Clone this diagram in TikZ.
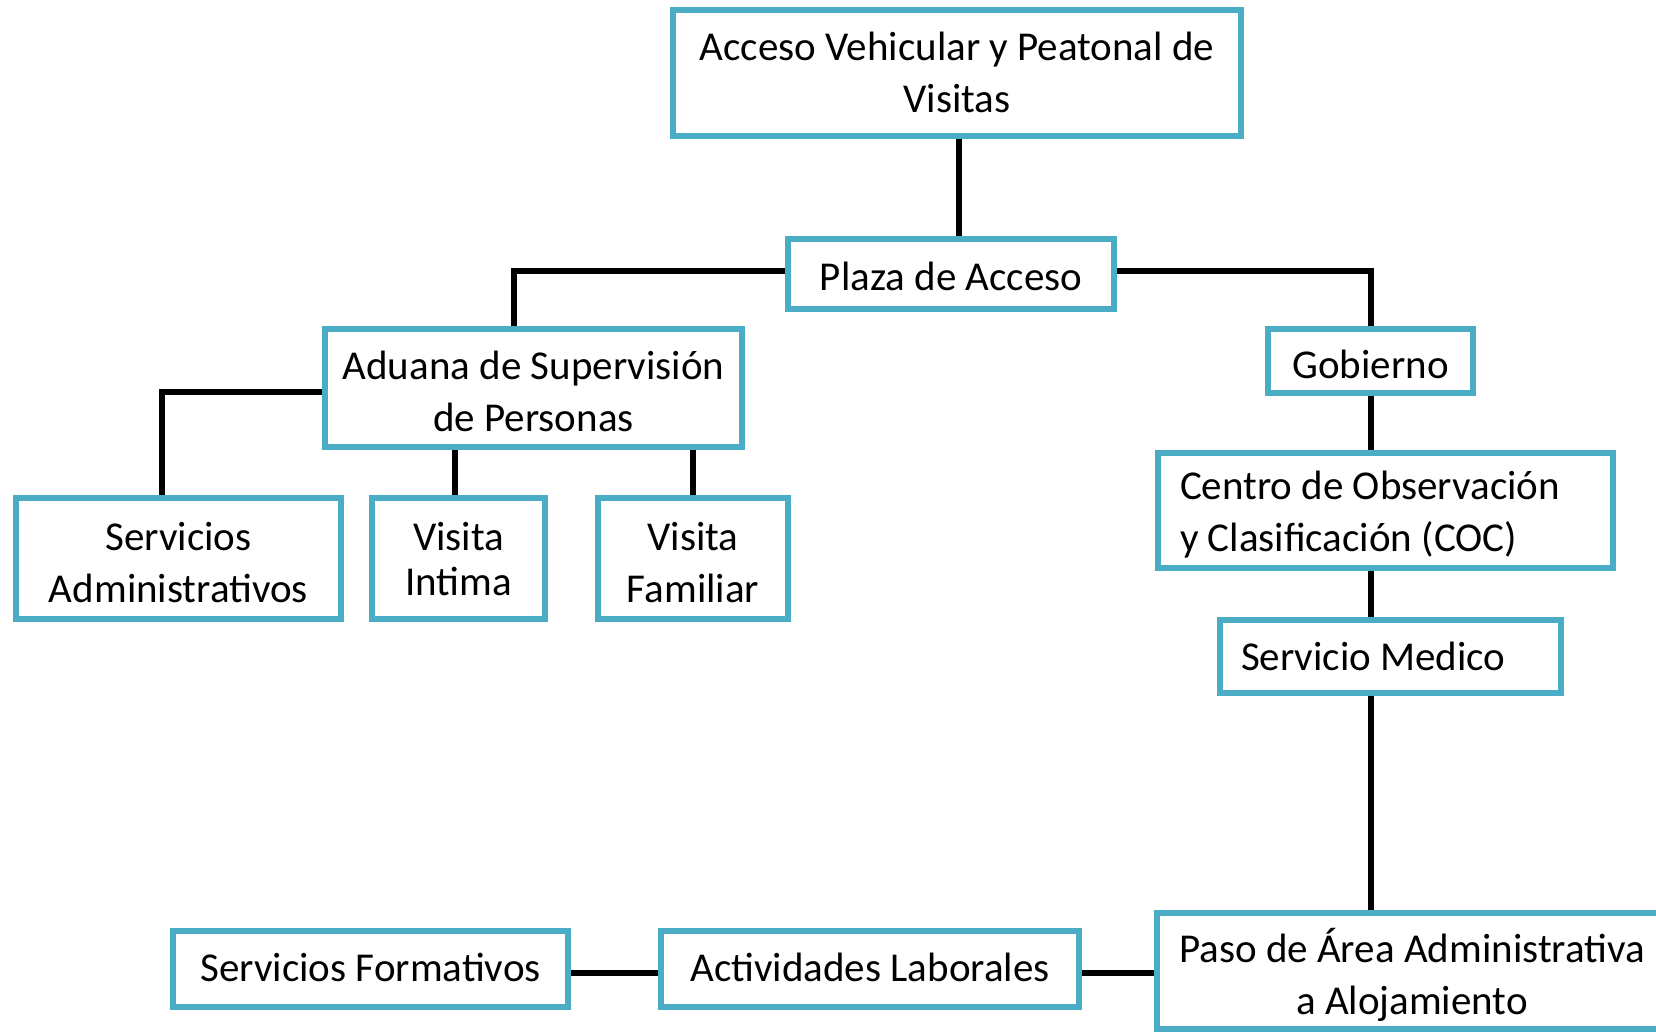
\documentclass[tikz,border=0pt]{standalone}
\usepackage{fontspec}
\setmainfont{Carlito}
\usetikzlibrary{backgrounds}
\definecolor{boxblue}{RGB}{75,172,198}
\tikzset{
  box/.style={draw=boxblue, line width=6pt, fill=white, rectangle, inner sep=0pt, outer sep=0pt,
    font=\fontsize{41}{52}\selectfont, align=center, text depth=0pt},
  conn/.style={draw=black, line width=6pt}
}
\begin{document}
\begin{tikzpicture}[x=1pt,y=-1pt]
\useasboundingbox (0,0) rectangle (1656,1032);
% boxes: center, width, height (border center lines)
\node[box, minimum width=568pt, minimum height=126pt, text height=79pt] (acceso) at (957,73) {Acceso Vehicular y Peatonal de\\Visitas};
\node[box, minimum width=326pt, minimum height=70pt, text height=33pt] (plaza) at (951,274) {Plaza de Acceso};
\node[box, minimum width=417pt, minimum height=118pt, text height=87pt] (aduana) at (533.5,388) {Aduana de Supervisión\\de Personas};
\node[box, minimum width=205pt, minimum height=64pt, text height=35pt] (gobierno) at (1370.5,361) {Gobierno};
\node[box, minimum width=325pt, minimum height=121pt, text height=88pt] (sadmin) at (178.5,558.5) {Servicios\\Administrativos};
\node[box, minimum width=173pt, minimum height=121pt, font=\fontsize{41}{45}\selectfont, text height=73pt] (vintima) at (458.5,558.5) {Visita\\Intima};
\node[box, minimum width=190pt, minimum height=121pt, text height=88pt] (vfamiliar) at (693,558.5) {Visita\\Familiar};
\node[box, minimum width=455pt, minimum height=115pt, text width=411pt, align=flush left, text height=0pt, text depth=22pt] (coc) at (1385.5,510) {Centro de Observación\\y Clasificación (COC)};
\node[box, minimum width=341pt, minimum height=73pt, text width=299pt, align=flush left, text height=27pt] (medico) at (1390.5,656.5) {Servicio Medico};
\node[box, minimum width=510pt, minimum height=116pt, text height=86pt] (paso) at (1412,971) {Paso de Área Administrativa\\a Alojamiento};
\node[box, minimum width=395pt, minimum height=76pt, text height=25pt] (sform) at (370.5,969) {Servicios Formativos};
\node[box, minimum width=418pt, minimum height=76pt, text height=25pt] (actlab) at (870,969) {Actividades Laborales};
% named bend points
\coordinate (vicol) at ([xshift=-3.5pt]vintima.north);
% connectors
\begin{scope}[on background layer]
\draw[conn] ([xshift=2pt]acceso.south) -- ([xshift=8pt]plaza.north);
\draw[conn] ([yshift=3pt]plaza.west) -| ([xshift=-19.5pt]aduana.north);
\draw[conn] ([yshift=3pt]plaza.east) -| (gobierno.north);
\draw[conn] ([yshift=-4pt]aduana.west) -| ([xshift=-16.5pt]sadmin.north);
\draw[conn] (aduana.south -| vicol) -- (vicol);
\draw[conn] (aduana.south -| vfamiliar.north) -- (vfamiliar.north);
\draw[conn] (gobierno.south) -- (gobierno.south |- coc.north);
\draw[conn] (gobierno.south |- coc.south) -- (gobierno.south |- medico.north);
\draw[conn] (gobierno.south |- medico.south) -- (gobierno.south |- paso.north);
\draw[conn] ([yshift=-2pt]paso.west) -- ([yshift=-2pt]actlab.east |- paso.west);
\draw[conn] ([yshift=-2pt]actlab.west |- paso.west) -- ([yshift=-2pt]sform.east |- paso.west);
\end{scope}
\end{tikzpicture}
\end{document}
